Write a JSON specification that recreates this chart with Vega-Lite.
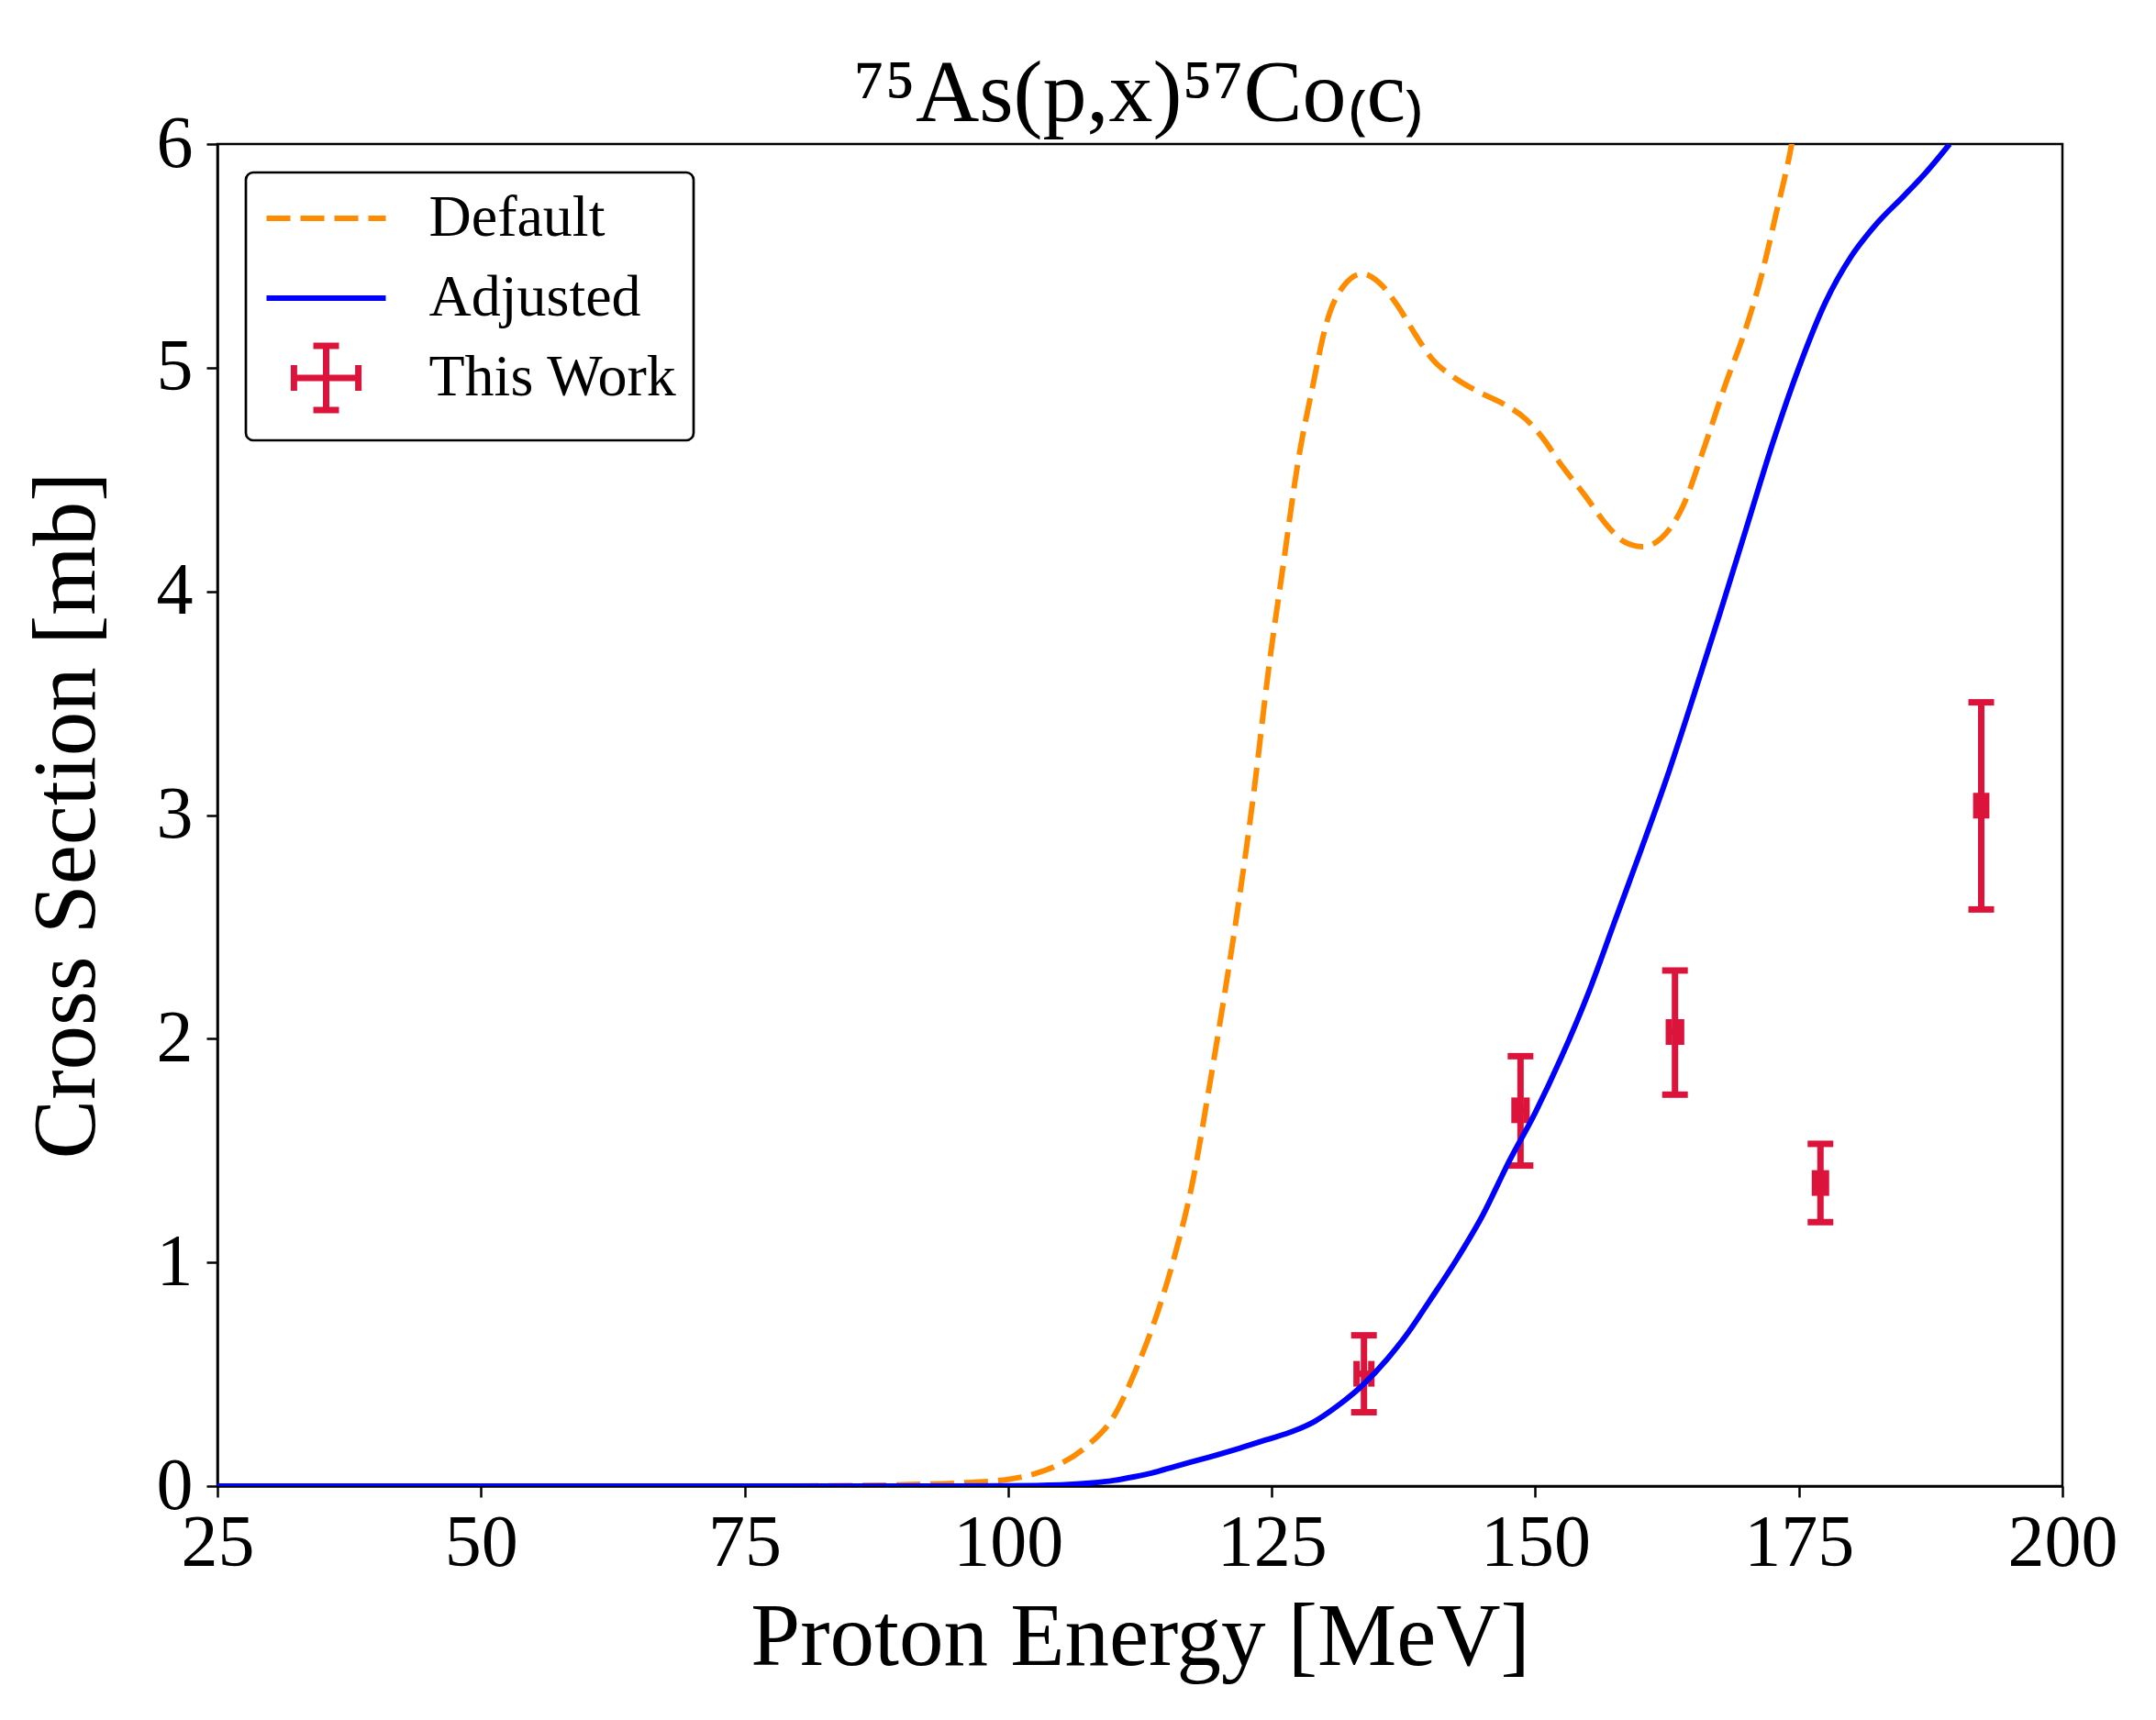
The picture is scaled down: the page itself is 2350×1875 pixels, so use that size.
{
  "$schema": "https://vega.github.io/schema/vega-lite/v6.json",
  "width": 2011,
  "height": 1463,
  "autosize": {"type": "none"},
  "padding": {"left": 237, "top": 157, "right": 102, "bottom": 255},
  "background": "white",
  "config": {
    "font": "Liberation Serif",
    "view": {"stroke": "black", "strokeWidth": 2.5},
    "axis": {
      "labelFont": "Liberation Serif", "labelFontSize": 80, "labelColor": "black",
      "titleFont": "Liberation Serif", "titleFontSize": 97, "titleFontWeight": "normal", "titleColor": "black",
      "domainColor": "black", "domainWidth": 2.5, "tickColor": "black", "tickWidth": 2.5, "tickSize": 12,
      "grid": false, "labelFlush": false, "labelOverlap": false
    },
    "axisX": {"labelPadding": 11, "titlePadding": 15},
    "axisY": {"labelPadding": 15, "titlePadding": 48}
  },
  "title": {
    "text": "⁷⁵As(p,x)⁵⁷Co₍c₎",
    "font": "Liberation Serif", "fontSize": 96, "fontWeight": "normal", "color": "black",
    "anchor": "middle", "baseline": "alphabetic", "offset": 27, "dy": 138
  },
  "datasets": {
    "points": [
      {"series": "This Work", "E": 133.75, "Elo": 133.05, "Ehi": 134.45, "cs": 0.502, "lo": 0.330, "hi": 0.674},
      {"series": "This Work", "E": 148.6, "Elo": 148.03, "Ehi": 149.17, "cs": 1.680, "lo": 1.433, "hi": 1.922},
      {"series": "This Work", "E": 163.25, "Elo": 162.67, "Ehi": 163.83, "cs": 2.030, "lo": 1.750, "hi": 2.305},
      {"series": "This Work", "E": 177.05, "Elo": 176.53, "Ehi": 177.57, "cs": 1.355, "lo": 1.180, "hi": 1.530},
      {"series": "This Work", "E": 192.3, "Elo": 191.83, "Ehi": 192.77, "cs": 3.042, "lo": 2.578, "hi": 3.504}
    ],
    "default": [
      {"series": "Default", "E": 25, "cs": 0},
      {"series": "Default", "E": 50, "cs": 0},
      {"series": "Default", "E": 75, "cs": 0},
      {"series": "Default", "E": 85, "cs": 0.002},
      {"series": "Default", "E": 90, "cs": 0.006},
      {"series": "Default", "E": 95, "cs": 0.013},
      {"series": "Default", "E": 100, "cs": 0.03},
      {"series": "Default", "E": 102.5, "cs": 0.055},
      {"series": "Default", "E": 104.7, "cs": 0.094},
      {"series": "Default", "E": 107.5, "cs": 0.18},
      {"series": "Default", "E": 110, "cs": 0.31},
      {"series": "Default", "E": 112.2, "cs": 0.53},
      {"series": "Default", "E": 114.2, "cs": 0.78},
      {"series": "Default", "E": 115.8, "cs": 1.03},
      {"series": "Default", "E": 117.5, "cs": 1.36},
      {"series": "Default", "E": 119.1, "cs": 1.79},
      {"series": "Default", "E": 120.5, "cs": 2.19},
      {"series": "Default", "E": 121.9, "cs": 2.62},
      {"series": "Default", "E": 123.3, "cs": 3.1},
      {"series": "Default", "E": 124.7, "cs": 3.65},
      {"series": "Default", "E": 126.1, "cs": 4.12},
      {"series": "Default", "E": 127.5, "cs": 4.58},
      {"series": "Default", "E": 128.9, "cs": 4.92},
      {"series": "Default", "E": 130.2, "cs": 5.2},
      {"series": "Default", "E": 131.9, "cs": 5.37},
      {"series": "Default", "E": 133.6, "cs": 5.42},
      {"series": "Default", "E": 135.2, "cs": 5.38},
      {"series": "Default", "E": 136.9, "cs": 5.28},
      {"series": "Default", "E": 138.6, "cs": 5.15},
      {"series": "Default", "E": 140.2, "cs": 5.04},
      {"series": "Default", "E": 142.5, "cs": 4.95},
      {"series": "Default", "E": 144.7, "cs": 4.89},
      {"series": "Default", "E": 146.9, "cs": 4.84},
      {"series": "Default", "E": 149.1, "cs": 4.77},
      {"series": "Default", "E": 150.8, "cs": 4.68},
      {"series": "Default", "E": 152.4, "cs": 4.57},
      {"series": "Default", "E": 154.7, "cs": 4.43},
      {"series": "Default", "E": 156.9, "cs": 4.29},
      {"series": "Default", "E": 158.5, "cs": 4.22},
      {"series": "Default", "E": 160.2, "cs": 4.2},
      {"series": "Default", "E": 162, "cs": 4.24},
      {"series": "Default", "E": 164, "cs": 4.38},
      {"series": "Default", "E": 166, "cs": 4.64},
      {"series": "Default", "E": 168, "cs": 4.92},
      {"series": "Default", "E": 170, "cs": 5.18},
      {"series": "Default", "E": 171.5, "cs": 5.42},
      {"series": "Default", "E": 172.8, "cs": 5.68},
      {"series": "Default", "E": 174.2, "cs": 5.97},
      {"series": "Default", "E": 174.4, "cs": 6.02}
    ],
    "adjusted": [
      {"series": "Adjusted", "E": 25, "cs": 0},
      {"series": "Adjusted", "E": 50, "cs": 0},
      {"series": "Adjusted", "E": 75, "cs": 0},
      {"series": "Adjusted", "E": 90, "cs": 0},
      {"series": "Adjusted", "E": 100, "cs": 0.001},
      {"series": "Adjusted", "E": 105, "cs": 0.005},
      {"series": "Adjusted", "E": 108, "cs": 0.014},
      {"series": "Adjusted", "E": 110, "cs": 0.025},
      {"series": "Adjusted", "E": 112, "cs": 0.042},
      {"series": "Adjusted", "E": 113.6, "cs": 0.058},
      {"series": "Adjusted", "E": 116, "cs": 0.09},
      {"series": "Adjusted", "E": 119.1, "cs": 0.13},
      {"series": "Adjusted", "E": 122, "cs": 0.17},
      {"series": "Adjusted", "E": 124.7, "cs": 0.21},
      {"series": "Adjusted", "E": 127, "cs": 0.245},
      {"series": "Adjusted", "E": 129.1, "cs": 0.29},
      {"series": "Adjusted", "E": 131, "cs": 0.35},
      {"series": "Adjusted", "E": 133.6, "cs": 0.45},
      {"series": "Adjusted", "E": 136, "cs": 0.57},
      {"series": "Adjusted", "E": 138, "cs": 0.69},
      {"series": "Adjusted", "E": 140, "cs": 0.83},
      {"series": "Adjusted", "E": 142.5, "cs": 1.01},
      {"series": "Adjusted", "E": 145, "cs": 1.21},
      {"series": "Adjusted", "E": 147.5, "cs": 1.45},
      {"series": "Adjusted", "E": 150, "cs": 1.67},
      {"series": "Adjusted", "E": 152.5, "cs": 1.92},
      {"series": "Adjusted", "E": 155, "cs": 2.2},
      {"series": "Adjusted", "E": 157.5, "cs": 2.52},
      {"series": "Adjusted", "E": 160, "cs": 2.84},
      {"series": "Adjusted", "E": 162.5, "cs": 3.17},
      {"series": "Adjusted", "E": 165, "cs": 3.53},
      {"series": "Adjusted", "E": 167.5, "cs": 3.9},
      {"series": "Adjusted", "E": 170, "cs": 4.28},
      {"series": "Adjusted", "E": 172.5, "cs": 4.66},
      {"series": "Adjusted", "E": 175, "cs": 5.0},
      {"series": "Adjusted", "E": 177.5, "cs": 5.29},
      {"series": "Adjusted", "E": 180, "cs": 5.5},
      {"series": "Adjusted", "E": 182.5, "cs": 5.65},
      {"series": "Adjusted", "E": 185, "cs": 5.77},
      {"series": "Adjusted", "E": 187, "cs": 5.87},
      {"series": "Adjusted", "E": 189.3, "cs": 6.0}
    ]
  },
  "layer": [
    {
      "data": {"name": "points"},
      "mark": {"type": "rule", "strokeWidth": 7, "clip": true},
      "encoding": {
        "x": {"field": "E", "type": "quantitative", "title": "Proton Energy [MeV]",
              "scale": {"domain": [25, 200], "nice": false, "zero": false},
              "axis": {"values": [25, 50, 75, 100, 125, 150, 175, 200], "format": "d"}},
        "y": {"field": "lo", "type": "quantitative", "title": "Cross Section [mb]",
              "scale": {"domain": [0, 6], "nice": false},
              "axis": {"values": [0, 1, 2, 3, 4, 5, 6], "format": "d"}},
        "y2": {"field": "hi"},
        "color": {"field": "series", "type": "nominal",
          "scale": {"domain": ["Default", "Adjusted", "This Work"], "range": ["#FF8C00", "#0000FF", "#DC143C"]},
          "legend": {
            "title": null, "orient": "top-left", "offset": 31,
            "symbolType": "stroke", "symbolSize": 16900, "symbolStrokeWidth": 6, "symbolOpacity": 1,
            "symbolOffset": 37.5,
            "labelFont": "Liberation Serif", "labelFontSize": 64, "labelColor": "black", "labelLimit": 0,
            "labelOffset": 80, "padding": 18, "rowPadding": -13, "gridAlign": "all",
            "strokeColor": "black", "cornerRadius": 8, "fillColor": "white",
            "encode": {
              "legend": {"update": {"strokeWidth": {"value": 2.7}}},
              "symbols": {"update": {
                "shape": {"signal": "datum.value === 'This Work' ? 'M0,-0.54L0,0.54M-0.54,0L0.54,0M-0.215,-0.54L0.215,-0.54M-0.215,0.54L0.215,0.54M-0.54,-0.215L-0.54,0.215M0.54,-0.215L0.54,0.215' : 'stroke'"},
                "strokeDash": {"signal": "datum.value === 'Default' ? [26, 11] : [1, 0]"},
                "strokeWidth": {"signal": "datum.value === 'This Work' ? 7 : 6"},
                "stroke": {"signal": "scale('color', datum.value)"},
                "fill": {"value": "transparent"},
                "strokeCap": {"value": "butt"},
                "opacity": {"value": 1}
              }}
            }
          }}
      }
    },
    {
      "data": {"name": "points"},
      "mark": {"type": "rule", "strokeWidth": 7, "clip": true},
      "encoding": {
        "x": {"field": "Elo", "type": "quantitative", "title": "Proton Energy [MeV]"},
        "x2": {"field": "Ehi"},
        "y": {"field": "cs", "type": "quantitative", "title": "Cross Section [mb]"},
        "color": {"field": "series", "type": "nominal"}
      }
    },
    {
      "data": {"name": "points"},
      "mark": {"type": "tick", "orient": "horizontal", "size": 28, "thickness": 7, "opacity": 1},
      "encoding": {
        "x": {"field": "E", "type": "quantitative", "title": "Proton Energy [MeV]"},
        "y": {"field": "lo", "type": "quantitative", "title": "Cross Section [mb]"},
        "color": {"field": "series", "type": "nominal"}
      }
    },
    {
      "data": {"name": "points"},
      "mark": {"type": "tick", "orient": "horizontal", "size": 28, "thickness": 7, "opacity": 1},
      "encoding": {
        "x": {"field": "E", "type": "quantitative", "title": "Proton Energy [MeV]"},
        "y": {"field": "hi", "type": "quantitative", "title": "Cross Section [mb]"},
        "color": {"field": "series", "type": "nominal"}
      }
    },
    {
      "data": {"name": "points"},
      "mark": {"type": "tick", "orient": "vertical", "size": 28, "thickness": 7, "opacity": 1},
      "encoding": {
        "x": {"field": "Elo", "type": "quantitative", "title": "Proton Energy [MeV]"},
        "y": {"field": "cs", "type": "quantitative", "title": "Cross Section [mb]"},
        "color": {"field": "series", "type": "nominal"}
      }
    },
    {
      "data": {"name": "points"},
      "mark": {"type": "tick", "orient": "vertical", "size": 28, "thickness": 7, "opacity": 1},
      "encoding": {
        "x": {"field": "Ehi", "type": "quantitative", "title": "Proton Energy [MeV]"},
        "y": {"field": "cs", "type": "quantitative", "title": "Cross Section [mb]"},
        "color": {"field": "series", "type": "nominal"}
      }
    },
    {
      "data": {"name": "default"},
      "mark": {"type": "line", "strokeWidth": 6, "strokeDash": [26, 11], "interpolate": "monotone", "clip": true},
      "encoding": {
        "x": {"field": "E", "type": "quantitative", "title": "Proton Energy [MeV]"},
        "y": {"field": "cs", "type": "quantitative", "title": "Cross Section [mb]"},
        "color": {"field": "series", "type": "nominal"}
      }
    },
    {
      "data": {"name": "adjusted"},
      "mark": {"type": "line", "strokeWidth": 6, "interpolate": "monotone", "clip": true},
      "encoding": {
        "x": {"field": "E", "type": "quantitative", "title": "Proton Energy [MeV]"},
        "y": {"field": "cs", "type": "quantitative", "title": "Cross Section [mb]"},
        "color": {"field": "series", "type": "nominal"}
      }
    }
  ]
}
